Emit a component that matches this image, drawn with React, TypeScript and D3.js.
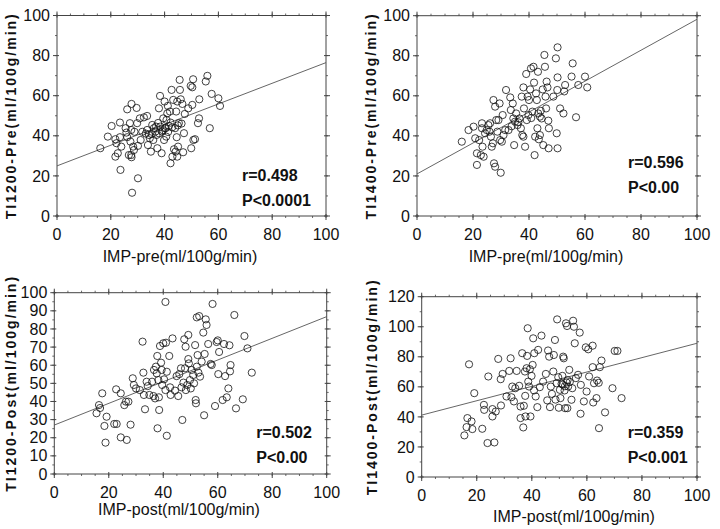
import React from "react";
import * as d3 from "d3";

// IMP (x) vs Tl-201 (y), ml/100g/min
const preTl1200: [number, number][] = [
  [16.1, 33.8], [18.9, 39.6], [20.3, 44.9], [21.7, 38.3], [22.1, 36.3], [21.7, 29.6], [22.6, 31.3],
  [23.4, 46.6], [23.4, 39.3], [23.6, 23], [23.9, 34.6], [25.5, 43.8], [26.1, 53.2], [26.1, 39.3],
  [26.7, 30.4], [27.1, 46.3], [27.6, 42.9], [27.7, 55.9], [27.9, 11.6], [27.6, 30.4], [27.7, 29.3],
  [28.3, 34.6], [28.8, 42], [29.6, 53.9], [29.8, 46.3], [30.1, 18.8], [30.1, 35], [30.8, 48.7],
  [31.1, 37.9], [31.7, 42], [32.3, 49.2], [33.5, 49.9], [33.5, 42.9], [33.8, 35.4], [34.2, 40.4],
  [34.5, 38.8], [34.9, 32.1], [35.4, 45.4], [35.8, 37.9], [36, 43.8], [36.6, 42.1], [37, 40.4],
  [37.3, 33.8], [37.9, 53.7], [38.3, 59.9], [38.4, 44.6], [38.9, 31.3], [39.1, 42.1], [39.5, 48.7],
  [39.8, 37.9], [40, 57.1], [40.1, 43.8], [40.4, 43.8], [40.7, 47.9], [41, 51.2], [41.2, 54.9],
  [41.6, 44.9], [42, 52.1], [42.2, 46.6], [42.2, 26.3], [42.6, 62.9], [42.9, 29.6], [43.2, 57.9],
  [43.5, 33.3], [43.9, 43.8], [44.1, 32.1], [44.3, 52.1], [44.5, 39.3], [44.7, 57.1], [44.7, 29.6],
  [45, 34.6], [45.3, 46.3], [45.6, 67.9], [45.7, 62.9], [46, 58.2], [46.3, 46.1], [46.6, 55.9],
  [46.9, 31.8], [47.2, 41.3], [47.5, 50.9], [48.8, 53.7], [49.7, 64.9], [49.9, 33.8], [50.3, 55.4],
  [50.3, 64.2], [50.6, 68.2], [50.7, 37.9], [51.3, 38.3], [52.4, 46.3], [52.8, 48.7], [52.9, 58.2],
  [55.3, 67.1], [55.9, 69.9], [56.8, 43.8], [57.5, 60.9], [60, 58.7], [60.6, 54.9], [27.3, 37.1],
  [28.6, 32.9], [25.8, 41.6], [36.8, 44.6], [38, 41.2], [39.4, 42.8], [41.3, 41.9], [42.8, 44.2],
  [35.2, 40.9], [33, 41.1], [44.9, 45.2], [40.6, 39.6], [37.6, 46.4],
];

const preTl1400: [number, number][] = [
  [16, 37.1], [18.4, 42.9], [20.2, 44.6], [20.8, 38.8], [21.4, 31.3], [21.4, 25.5], [22.2, 37.9],
  [22.8, 30.4], [23.2, 46.3], [23.2, 43.8], [23.4, 34.6], [23.8, 29.6], [24.3, 41.3], [24.9, 42.9],
  [25.5, 45.4], [25.9, 42.1], [26.1, 46.3], [26.4, 39.6], [26.7, 34.6], [27.1, 36.3], [27.3, 57.9],
  [27.5, 26.3], [27.9, 24.6], [27.9, 54.6], [28.3, 47.9], [28.7, 42.1], [29.1, 47.9], [29.5, 56.2],
  [29.7, 37.9], [29.9, 21.6], [30.3, 37.1], [30.6, 50.4], [30.9, 40.4], [31.5, 42.9], [31.8, 62.9],
  [32.7, 42.9], [33.3, 59.2], [33.5, 52.9], [34.2, 56.2], [34.4, 48.7], [34.7, 35.4], [35, 47.1],
  [35.4, 51.2], [35.9, 45.4], [36.6, 48.7], [37.1, 43.8], [37.4, 59.6], [37.6, 40.4], [38, 64.2],
  [38, 39.6], [38.2, 53.7], [38.6, 34.6], [39, 70.9], [39.2, 47.9], [39.5, 59.6], [39.8, 50.4],
  [40, 57.9], [40.4, 63.2], [40.7, 73.7], [41.2, 52.1], [41.6, 74.5], [41.8, 66.6], [42, 30.4],
  [42.2, 39.6], [42.5, 61.2], [42.8, 57.9], [43, 43.8], [43.2, 72], [43.3, 51.2], [43.5, 38.3],
  [43.9, 49.6], [43.9, 40.4], [44.5, 48.7], [44.9, 63.2], [45.1, 35.4], [45.5, 80.4], [45.7, 74.5],
  [45.9, 59.6], [46.1, 53.7], [46.3, 67.1], [46.6, 64.2], [46.9, 47.6], [47, 33.8], [47.1, 43.8],
  [48.7, 59.6], [49.6, 78.7], [49.9, 41.3], [50.2, 84.2], [50.2, 69.2], [50.1, 62.9], [50.2, 33.8],
  [51.1, 53.7], [52.3, 51.2], [52.6, 62.2], [52.9, 65.4], [55.2, 69.6], [55.6, 76.2], [56.8, 49.3],
  [57.6, 65.4], [60, 69.6], [60.8, 64.2], [36.2, 46.8], [40.8, 48.9], [44.2, 52.5], [33.8, 44.8],
];

const postTl1200: [number, number][] = [
  [15.5, 33.5], [16.4, 38], [16.8, 36.4], [17.6, 44.5], [18.4, 26.5], [18.8, 17.3], [19.2, 31.6],
  [22, 27.6], [22.9, 27.6], [22.7, 46.7], [24.4, 20.2], [24.4, 44.5], [25.7, 38], [26.3, 39.9],
  [26.6, 18.8], [27.2, 39.9], [28, 27.2], [28.8, 52.8], [29.2, 49.1], [30, 47.2], [31.4, 46.3],
  [32.4, 73], [32.7, 55.9], [32.9, 43.6], [33.3, 35.7], [33.9, 50.9], [34.3, 48.5], [34.9, 43.6],
  [35.9, 50.9], [36.4, 43], [36.6, 57.4], [37, 41.7], [37.3, 59.2], [37.6, 55.5], [37.8, 65.1],
  [37.9, 25.2], [38.2, 51.8], [38.4, 42.3], [38.5, 35.3], [38.8, 70.6], [39.2, 61.4], [39.4, 57.4],
  [39.6, 49.1], [40, 72.1], [40.3, 52.2], [40.8, 94.9], [40.8, 46.3], [41, 72.4], [41.3, 56.4],
  [41.3, 21.1], [42.2, 65.1], [42.5, 47.8], [42.7, 43.6], [43.4, 74.8], [44.3, 46], [44.9, 54],
  [45.5, 43], [45.9, 55.1], [46.5, 58.3], [46.7, 47.8], [47, 29.8], [47.4, 50.4], [47.7, 74.3],
  [48, 58.3], [48.2, 70.2], [48.3, 46.3], [48.8, 49.1], [49.2, 76.7], [49.2, 63.4], [49.4, 61],
  [49.8, 51.8], [50.1, 47.2], [50.4, 57.4], [51, 54.6], [51.3, 50], [51.7, 71.1], [51.9, 40.8],
  [52, 39], [52.3, 86.4], [52.3, 59.2], [52.6, 65.6], [52.9, 55.9], [53.2, 87.1], [53.5, 53.7],
  [54.1, 62], [54.7, 78], [55, 32.4], [55.2, 66.2], [55.6, 85.3], [55.9, 82.2], [56.5, 71.7],
  [57.4, 60.7], [57.8, 60.1], [58.1, 93.8], [59, 37.5], [59.6, 72.8], [60, 73.7], [60.2, 55.1],
  [60.5, 67.3], [61.8, 40.8], [62.3, 71.7], [62.7, 54], [63.3, 42.3], [63.9, 47.2], [64.3, 71],
  [64.5, 56.6], [64.7, 60.1], [66.1, 87.7], [66.7, 36.2], [69.2, 41.2], [69.8, 76.1], [70.9, 69.3],
  [72.5, 55.9],
];

const postTl1400: [number, number][] = [
  [15.5, 27.7], [16.3, 33.2], [16.6, 39.2], [17.2, 75], [18.1, 37], [18.4, 31.9], [19.1, 55.8],
  [22, 32.1], [22.6, 48], [22.7, 44.7], [23.9, 22.6], [24.2, 66.9], [25.7, 40.3], [25.7, 45.2],
  [26.4, 23], [26.9, 43.6], [27.8, 78.6], [28.7, 65.1], [28.8, 47.6], [29.4, 68.6], [30.8, 53.6],
  [31.8, 70.6], [32.3, 79], [32.6, 53.1], [32.9, 60.2], [33.5, 50.3], [34, 59.1], [34.5, 70.6],
  [35.4, 60.7], [35.9, 46.9], [35.9, 39.2], [36.5, 82.4], [36.9, 33], [37.1, 47.4], [37.5, 70.2],
  [37.6, 54], [37.7, 40.3], [38.1, 72.4], [38.3, 80.6], [38.5, 99], [38.7, 63.5], [39, 60.2],
  [39.3, 71.7], [39.5, 40.3], [39.9, 67.3], [40.3, 74.6], [40.5, 92.3], [40.8, 57.6], [40.9, 82.4],
  [41.4, 53.6], [42, 46.5], [42.3, 84.6], [42.9, 59.8], [43.5, 94.1], [44.1, 63.5], [45.1, 68.6],
  [45.6, 51], [45.9, 84.2], [46.3, 80.1], [46.6, 46.5], [46.9, 60.2], [47.3, 55.3], [47.8, 70.2],
  [48, 81.2], [48.4, 91.2], [48.6, 51.5], [49, 62.4], [49.2, 104.9], [49.6, 66.4], [49.8, 46.1],
  [50.2, 58], [50.4, 52.5], [50.8, 62], [51.1, 67.3], [51.4, 80.1], [51.6, 79], [51.9, 57.6],
  [52.1, 45.8], [52.4, 102.3], [52.6, 62.9], [52.8, 100.5], [52.9, 45.8], [53.2, 60.2], [53.6, 71.3],
  [53.8, 63.3], [54.4, 51.4], [54.7, 59.1], [55, 104], [55.3, 100], [55.6, 89], [56, 65.8],
  [56.8, 68], [57.4, 96.1], [57.7, 42.1], [57.8, 61.3], [58.9, 50.3], [59.6, 86.3], [59.9, 56.9],
  [60.5, 85], [60.8, 66.9], [62.1, 73.1], [62.3, 49.6], [62.6, 62.4], [63.5, 52.5], [63.7, 64.2],
  [64.3, 62.7], [64.4, 32.5], [64.7, 73.1], [65.3, 77.5], [66.6, 43], [69.3, 59.1], [70.1, 83.9],
  [71.1, 83.9], [72.6, 52.5], [62.1, 87.4], [51.2, 61.5], [52, 60.4], [53, 64.5],
];

// regression line: y at x=0 and y at x=100
const fitPreTl1200 = [25, 76.5];
const fitPreTl1400 = [21, 98.2];
const fitPostTl1200 = [27, 86.8];
const fitPostTl1400 = [41.2, 89];

const xTicks = [0, 20, 40, 60, 80, 100];
const yTicks100 = [0, 20, 40, 60, 80, 100];
const yTicks100by10 = [0, 10, 20, 30, 40, 50, 60, 70, 80, 90, 100];
const yTicks120 = [0, 20, 40, 60, 80, 100, 120];

const panels = [
  {
    data: preTl1200, fit: fitPreTl1200, yMax: 100, yTicks: yTicks100, yMinorStep: 10,
    xTitle: "IMP-pre(ml/100g/min)", yTitle: "TI1200-Pre(ml/100g/min)",
    r: "r=0.498", p: "P<0.0001",
    box: { l: 57, r: 326, t: 15.5, b: 216 }, titleX: 180, titleDy: 46, yTitleX: 11, statX: 185, statY: 181,
  },
  {
    data: preTl1400, fit: fitPreTl1400, yMax: 100, yTicks: yTicks100, yMinorStep: 10,
    xTitle: "IMP-pre(ml/100g/min)", yTitle: "TI1400-Pre(ml/100g/min)",
    r: "r=0.596", p: "P<0.00",
    box: { l: 417, r: 697, t: 15.7, b: 216 }, titleX: 546, titleDy: 46, yTitleX: 371, statX: 211, statY: 168,
  },
  {
    data: postTl1200, fit: fitPostTl1200, yMax: 100, yTicks: yTicks100by10, yMinorStep: 5,
    xTitle: "IMP-post(ml/100g/min)", yTitle: "TI1200-Post(ml/100g/min)",
    r: "r=0.502", p: "P<0.00",
    box: { l: 54.3, r: 326.7, t: 292.7, b: 474 }, titleX: 179, titleDy: 41, yTitleX: 11, statX: 202, statY: 438,
  },
  {
    data: postTl1400, fit: fitPostTl1400, yMax: 120, yTicks: yTicks120, yMinorStep: 10,
    xTitle: "IMP-post(ml/100g/min)", yTitle: "TI1400-Post(ml/100g/min)",
    r: "r=0.359", p: "P<0.001",
    box: { l: 421.7, r: 697, t: 296.7, b: 477 }, titleX: 574, titleDy: 45, yTitleX: 372, statX: 206, statY: 438,
  },
];

const font = "'Liberation Sans', Arial, Helvetica, sans-serif";
const axisColor = "#444";

function Panel({ cfg }: { cfg: (typeof panels)[number] }) {
  const { box } = cfg;
  const x = d3.scaleLinear().domain([0, 100]).range([box.l, box.r]);
  const y = d3.scaleLinear().domain([0, cfg.yMax]).range([box.b, box.t]);
  const xMinor = d3.range(0, 100.01, 5);
  const yMinor = d3.range(0, cfg.yMax + 0.01, cfg.yMinorStep);
  const fitPath = d3.line<number>()((cfg.fit.map((v, i) => [x(i * 100), y(v)]) as any)) || "";
  const cy = (box.t + box.b) / 2;
  return (
    <g>
      <rect x={box.l} y={box.t} width={box.r - box.l} height={box.b - box.t} fill="none" stroke={axisColor} strokeWidth={1} />
      {xMinor.map((v) => (
        <g key={"xm" + v} stroke={axisColor} strokeWidth={0.8}>
          <line x1={x(v)} x2={x(v)} y1={box.b} y2={box.b + 2} />
          <line x1={x(v)} x2={x(v)} y1={box.t} y2={box.t - 2} />
        </g>
      ))}
      {yMinor.map((v) => (
        <g key={"ym" + v} stroke={axisColor} strokeWidth={0.8}>
          <line x1={box.l} x2={box.l - 2} y1={y(v)} y2={y(v)} />
          <line x1={box.r} x2={box.r + 2} y1={y(v)} y2={y(v)} />
        </g>
      ))}
      {xTicks.map((v) => (
        <g key={"xt" + v}>
          <line x1={x(v)} x2={x(v)} y1={box.b - 2} y2={box.b + 4} stroke={axisColor} />
          <line x1={x(v)} x2={x(v)} y1={box.t + 2} y2={box.t - 4} stroke={axisColor} />
          <text x={x(v)} y={box.b + 23.5} textAnchor="middle" fontSize={16} fontFamily={font} fill="#111">
            {v}
          </text>
        </g>
      ))}
      {cfg.yTicks.map((v) => (
        <g key={"yt" + v}>
          <line x1={box.l + 2} x2={box.l - 4} y1={y(v)} y2={y(v)} stroke={axisColor} />
          <line x1={box.r - 2} x2={box.r + 4} y1={y(v)} y2={y(v)} stroke={axisColor} />
          <text x={box.l - 7} y={y(v)} dy="0.35em" textAnchor="end" fontSize={16} fontFamily={font} fill="#111">
            {v}
          </text>
        </g>
      ))}
      <path d={fitPath} fill="none" stroke="#555" strokeWidth={0.9} />
      {cfg.data.map((d, i) => (
        <circle key={i} cx={x(d[0])} cy={y(d[1])} r={3.6} fill="none" stroke="#111" strokeWidth={0.8} />
      ))}
      <text x={cfg.titleX} y={box.b + cfg.titleDy} textAnchor="middle" fontSize={16} fontFamily={font} fill="#111">
        {cfg.xTitle}
      </text>
      <text
        transform={`translate(${cfg.yTitleX},${cy}) rotate(-90)`}
        textAnchor="middle"
        dominantBaseline="central"
        fontSize={14}
        fontWeight="bold"
        letterSpacing={2}
        fontFamily={font}
        fill="#111"
      >
        {cfg.yTitle}
      </text>
      <text x={box.l + cfg.statX} y={cfg.statY} fontSize={16} fontWeight="bold" fontFamily={font} fill="#111">
        {cfg.r}
      </text>
      <text x={box.l + cfg.statX} y={cfg.statY + 25} fontSize={16} fontWeight="bold" fontFamily={font} fill="#111">
        {cfg.p}
      </text>
    </g>
  );
}

export default function App() {
  return (
    <svg width={720} height={529} style={{ position: "absolute", left: 0, top: 0, background: "#fff" }}>
      <rect width={720} height={529} fill="#fff" />
      {panels.map((p, i) => (
        <Panel key={i} cfg={p} />
      ))}
    </svg>
  );
}
